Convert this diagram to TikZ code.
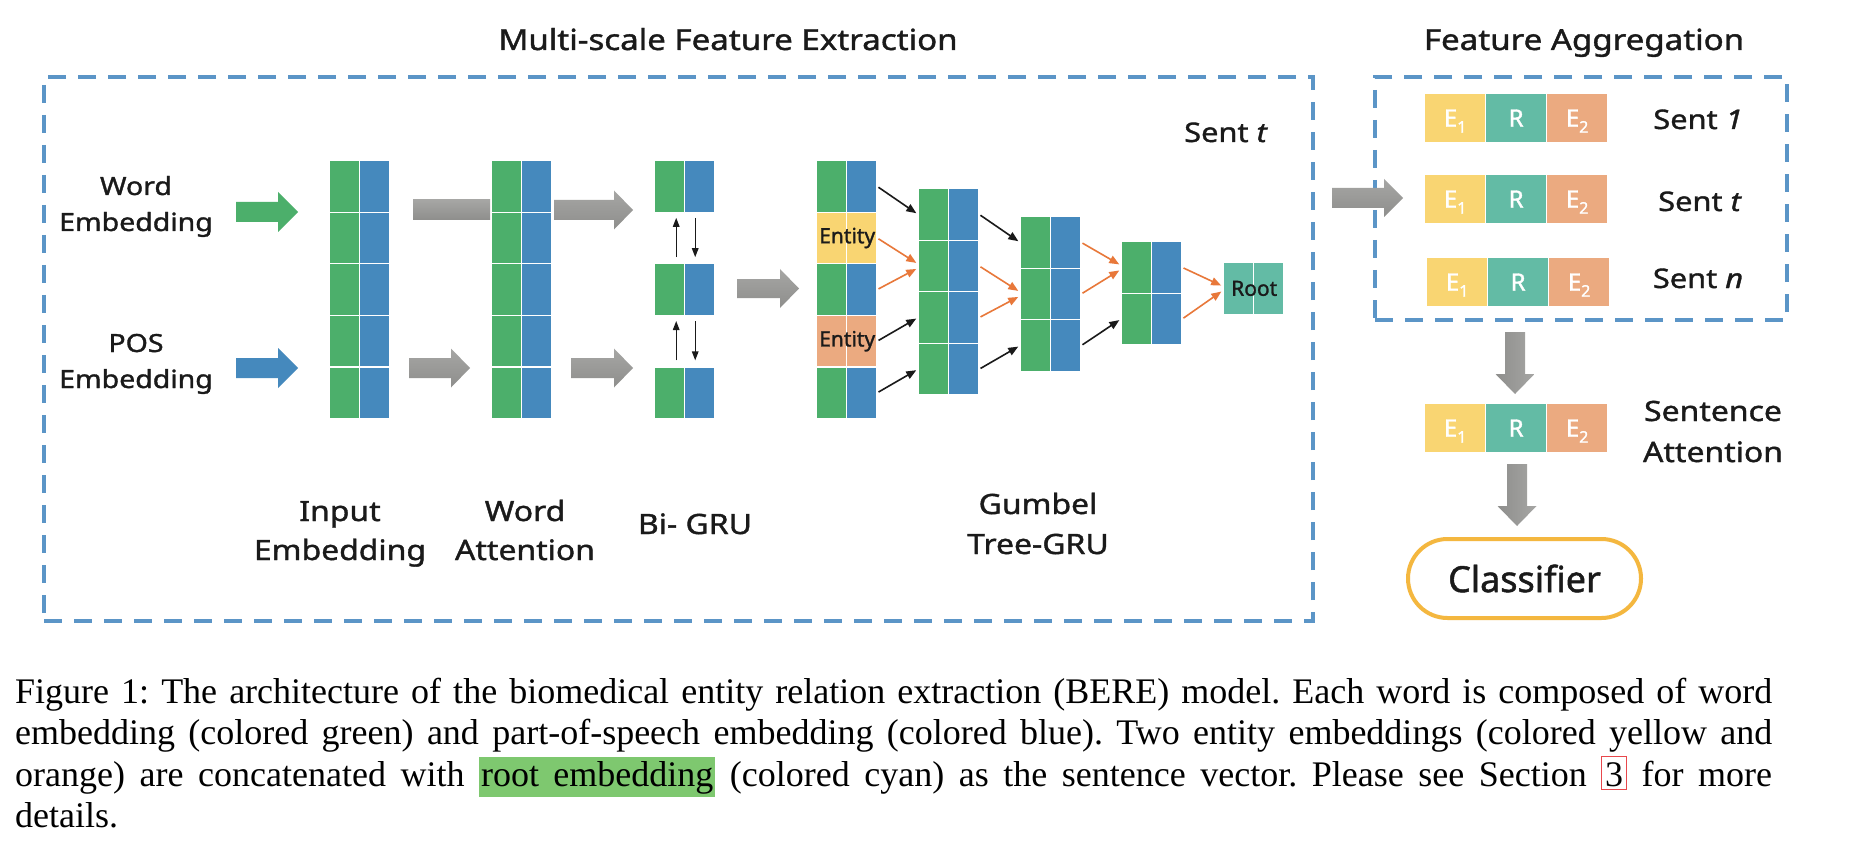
\documentclass[tikz,border=0pt]{standalone}
\usepackage{fontspec}
\setmainfont{Liberation Serif}
\newfontfamily\dfont[FakeBold=1.3]{Noto Sans}
\newfontfamily\wfont[FakeStretch=1.14,FakeBold=1.3]{Noto Sans}
\usetikzlibrary{arrows.meta,calc}
\definecolor{cgreen}{HTML}{4CAF6B}
\definecolor{cblue}{HTML}{4589BD}
\definecolor{cyellow}{HTML}{F9D572}
\definecolor{corange}{HTML}{EBAA80}
\definecolor{cteal}{HTML}{63BBA5}
\definecolor{dashblue}{HTML}{5B95C7}
\definecolor{aorange}{HTML}{E8783A}
\definecolor{agl}{HTML}{A6A6A4}
\definecolor{agd}{HTML}{8E8E8C}
\definecolor{cclass}{HTML}{F4B73F}
\definecolor{chl}{HTML}{7EC86F}
\definecolor{clink}{HTML}{E8474C}
\definecolor{txt}{HTML}{1A1A1A}
\newcommand\harr[7]{\path[#7] (#1,{#4-#5}) -- (#3,{#4-#5}) -- (#3,{#4-#6}) -- (#2,#4) -- (#3,{#4+#6}) -- (#3,{#4+#5}) -- (#1,{#4+#5}) -- cycle;}
\newcommand\varr[7]{\path[#7] ({#1-#5},#2) -- ({#1-#5},#4) -- ({#1-#6},#4) -- (#1,#3) -- ({#1+#6},#4) -- ({#1+#5},#4) -- ({#1+#5},#2) -- cycle;}
\newcommand\Esub[1]{E\raisebox{-6pt}[0pt][0pt]{\fontsize{16}{16}\selectfont #1}}
\newcommand\capfont{\fontsize{36}{41}\selectfont\frenchspacing\spaceskip=.25em plus .35em minus .08em\relax}
\newcommand\hlbox[1]{{\setlength\fboxsep{0pt}\colorbox{chl}{\rule[-11pt]{0pt}{40pt}\hspace{2pt}#1\hspace{2pt}}}}
\newcommand\lnkbox[1]{{\setlength\fboxsep{0pt}\setlength\fboxrule{1pt}\color{clink}\fbox{\rule[-3pt]{0pt}{32pt}\hspace{3pt}\color{black}#1\hspace{3pt}}}}
\tikzset{
  half/.style={rectangle, inner sep=0pt, minimum width=30pt, minimum height=51.6pt, draw=white, line width=1.2pt, anchor=north west},
  ecell/.style={rectangle, inner sep=0pt, minimum width=61pt, minimum height=49pt, draw=white, line width=1.2pt, anchor=north west, text=white, font=\dfont\fontsize{24}{24}\selectfont},
  dbox/.style={rectangle, draw=dashblue, line width=4pt, dash pattern=on 18pt off 12pt, inner sep=0pt, anchor=north west},
  blk/.style={draw=txt, line width=1.6pt, -{Triangle[length=10pt,width=8pt]}, shorten <=1.5pt, shorten >=2pt},
  org/.style={draw=aorange, line width=1.6pt, -{Triangle[length=10pt,width=8pt]}, shorten <=1.5pt, shorten >=2pt},
  bid/.style={draw=txt, line width=1.4pt, -{Triangle[length=9pt,width=6.5pt]}},
  lblw/.style={anchor=base, inner sep=0pt, text=txt},
  hgray/.style={top color=agl, bottom color=agd},
  vgray/.style={left color=agd, right color=agl},
}
\begin{document}
\begin{tikzpicture}[x=1pt,y=-1pt]
\useasboundingbox (0,0) rectangle (1870,850);
\fill[white] (0,0) rectangle (1870,850);

% titles
\node[lblw, font=\wfont\fontsize{29}{34}\selectfont] (title1) at (728,50) {Multi-scale Feature Extraction};
\node[lblw, font=\wfont\fontsize{29}{34}\selectfont] (title2) at (1584,50) {Feature Aggregation};

% dashed boxes
\node[dbox, minimum width=1269pt, minimum height=544pt] (boxL) at (42,75) {};
\node[dbox, minimum width=412pt, minimum height=243pt] (boxR) at (1373,75) {};

% side labels
\node[lblw, font=\wfont\fontsize{25}{30}\selectfont] (wl1) at (136,195) {Word};
\node[lblw, font=\wfont\fontsize{25}{30}\selectfont] (wl2) at (136,231) {Embedding};
\node[lblw, font=\wfont\fontsize{25}{30}\selectfont] (pl1) at (136,352) {POS};
\node[lblw, font=\wfont\fontsize{25}{30}\selectfont] (pl2) at (136,388) {Embedding};

% input arrows
\harr{236}{298}{278}{212}{10}{20}{fill=cgreen}
\harr{236}{298}{278}{368}{10}{20}{fill=cblue}

% columns
\foreach \k in {1,...,5}{
  \node[half,fill=cgreen] (in-\k-g) at (329,{160+51.6*(\k-1)}) {};
  \node[half,fill=cblue]  (in-\k-b) at (359,{160+51.6*(\k-1)}) {};
  \node[half,fill=cgreen] (wa-\k-g) at (491,{160+51.6*(\k-1)}) {};
  \node[half,fill=cblue]  (wa-\k-b) at (521,{160+51.6*(\k-1)}) {};
}
\foreach \k/\yy in {1/160,2/263.2,3/366.4}{
  \node[half,fill=cgreen] (bg-\k-g) at (654,\yy) {};
  \node[half,fill=cblue]  (bg-\k-b) at (684,\yy) {};
}
\foreach \k/\ca/\cb in {1/cgreen/cblue,2/cyellow/cyellow,3/cgreen/cblue,4/corange/corange,5/cgreen/cblue}{
  \node[half,fill=\ca] (g1-\k-g) at (816,{160+51.6*(\k-1)}) {};
  \node[half,fill=\cb] (g1-\k-b) at (846,{160+51.6*(\k-1)}) {};
}
\foreach \k in {1,...,4}{
  \node[half,fill=cgreen] (g2-\k-g) at (918,{188+51.6*(\k-1)}) {};
  \node[half,fill=cblue]  (g2-\k-b) at (948,{188+51.6*(\k-1)}) {};
}
\foreach \k in {1,...,3}{
  \node[half,fill=cgreen] (g3-\k-g) at (1020,{216+51.6*(\k-1)}) {};
  \node[half,fill=cblue]  (g3-\k-b) at (1050,{216+51.6*(\k-1)}) {};
}
\foreach \k in {1,...,2}{
  \node[half,fill=cgreen] (g4-\k-g) at (1121,{241+51.6*(\k-1)}) {};
  \node[half,fill=cblue]  (g4-\k-b) at (1151,{241+51.6*(\k-1)}) {};
}
\node[half,fill=cteal] (root-g) at (1223,262) {};
\node[half,fill=cteal] (root-b) at (1253,262) {};
\node[inner sep=0pt, text=txt, font=\dfont\fontsize{21}{21}\selectfont] (root) at (root-g.east) {Root};
\node[inner sep=0pt, text=txt, font=\dfont\fontsize{21}{21}\selectfont] (ent1) at (g1-2-g.east) {Entity};
\node[inner sep=0pt, text=txt, font=\dfont\fontsize{21}{21}\selectfont] (ent2) at (g1-4-g.east) {Entity};

% gray arrows
\path[hgray] (413,200) rectangle (490,220);
\harr{554}{633}{614}{210}{10}{19.5}{hgray}
\harr{409}{470}{451}{368}{10}{19.5}{hgray}
\harr{571}{633}{614}{368}{10}{19.5}{hgray}
\harr{737}{799}{780}{288.5}{9.5}{19.5}{hgray}
\harr{1332}{1403}{1384}{198}{10}{19}{hgray}

% Bi-GRU arrows
\draw[bid] ([xshift=-9pt,yshift=6pt]bg-2-g.north east) -- ([xshift=-9pt,yshift=-5pt]bg-1-g.south east);
\draw[bid] ([xshift=10pt,yshift=-5pt]bg-1-g.south east) -- ([xshift=10pt,yshift=6pt]bg-2-g.north east);
\draw[bid] ([xshift=-9pt,yshift=6pt]bg-3-g.north east) -- ([xshift=-9pt,yshift=-5pt]bg-2-g.south east);
\draw[bid] ([xshift=10pt,yshift=-5pt]bg-2-g.south east) -- ([xshift=10pt,yshift=6pt]bg-3-g.north east);

% tree arrows
\draw[blk] (g1-1-b.east) -- (g2-1-g.west);
\draw[org] (g1-2-b.east) -- ([yshift=2pt]g2-2-g.west);
\draw[org] (g1-3-b.east) -- ([yshift=-2pt]g2-2-g.west);
\draw[blk] (g1-4-b.east) -- (g2-3-g.west);
\draw[blk] (g1-5-b.east) -- (g2-4-g.west);
\draw[blk] (g2-1-b.east) -- (g3-1-g.west);
\draw[org] (g2-2-b.east) -- ([yshift=2pt]g3-2-g.west);
\draw[org] (g2-3-b.east) -- ([yshift=-2pt]g3-2-g.west);
\draw[blk] (g2-4-b.east) -- (g3-3-g.west);
\draw[org] (g3-1-b.east) -- ([yshift=2pt]g4-1-g.west);
\draw[org] (g3-2-b.east) -- ([yshift=-2pt]g4-1-g.west);
\draw[blk] (g3-3-b.east) -- (g4-2-g.west);
\draw[org] (g4-1-b.east) -- ([yshift=2pt]root-g.west);
\draw[org] (g4-2-b.east) -- ([yshift=-2pt]root-g.west);

% bottom labels
\node[lblw, font=\wfont\fontsize{28}{32}\selectfont] (li1) at (340,521) {Input};
\node[lblw, font=\wfont\fontsize{28}{32}\selectfont] (li2) at (340,560) {Embedding};
\node[lblw, font=\wfont\fontsize{28}{32}\selectfont] (lw1) at (525,521) {Word};
\node[lblw, font=\wfont\fontsize{28}{32}\selectfont] (lw2) at (525,560) {Attention};
\node[lblw, font=\wfont\fontsize{28}{32}\selectfont] (lb1) at (695,534) {Bi- GRU};
\node[lblw, font=\wfont\fontsize{28}{32}\selectfont] (lg1) at (1038,514) {Gumbel};
\node[lblw, font=\wfont\fontsize{28}{32}\selectfont] (lg2) at (1038,554) {Tree-GRU};
\node[lblw, font=\wfont\fontsize{27}{32}\selectfont] (sentL) at (1226,142) {Sent \textit{t}};

% aggregation rows
\foreach \r/\x/\y in {ra/1424/93, rb/1424/174, rc/1426/257, rs/1424/403}{
  \node[ecell,fill=cyellow] (\r-e1) at (\x,\y) {\Esub{1}};
  \node[ecell,fill=cteal]   (\r-r)  at ({\x+61},\y) {R};
  \node[ecell,fill=corange] (\r-e2) at ({\x+122},\y) {\Esub{2}};
}
\node[lblw, font=\wfont\fontsize{27}{32}\selectfont] (s1) at (1698,129) {Sent \textit{1}};
\node[lblw, font=\wfont\fontsize{27}{32}\selectfont] (s2) at (1700,211) {Sent \textit{t}};
\node[lblw, font=\wfont\fontsize{27}{32}\selectfont] (s3) at (1698,288) {Sent \textit{n}};

\varr{1515}{332}{394}{374}{10}{19.5}{vgray}
\varr{1517}{464}{526}{506}{10}{19.5}{vgray}
\node[lblw, font=\wfont\fontsize{28}{32}\selectfont] (sa1) at (1713,421) {Sentence};
\node[lblw, font=\wfont\fontsize{28}{32}\selectfont] (sa2) at (1713,462) {Attention};

\node[draw=cclass, line width=4pt, rounded corners=39.5pt, minimum width=233pt, minimum height=79pt, inner sep=0pt, text=txt, font=\dfont\fontsize{36}{36}\selectfont] (clf) at (1524.5,578.5) {Classifier};

% caption
\node[anchor=base west, inner sep=0pt, font=\capfont] (cap1) at (15,703) {\hbox to 1757pt{Figure 1: The architecture of the biomedical entity relation extraction (BERE) model. Each word is composed of word}};
\node[anchor=base west, inner sep=0pt, font=\capfont] (cap2) at (15,744) {\hbox to 1757pt{embedding (colored green) and part-of-speech embedding (colored blue). Two entity embeddings (colored yellow and}};
\node[anchor=base west, inner sep=0pt, font=\capfont] (cap3) at (15,786) {\hbox to 1757pt{orange) are concatenated with \hlbox{root\hspace{0.4em}embedding} (colored cyan) as the sentence vector. Please see Section \lnkbox{3} for more}};
\node[anchor=base west, inner sep=0pt, font=\capfont] (cap4) at (15,827) {details.};
\end{tikzpicture}
\end{document}
